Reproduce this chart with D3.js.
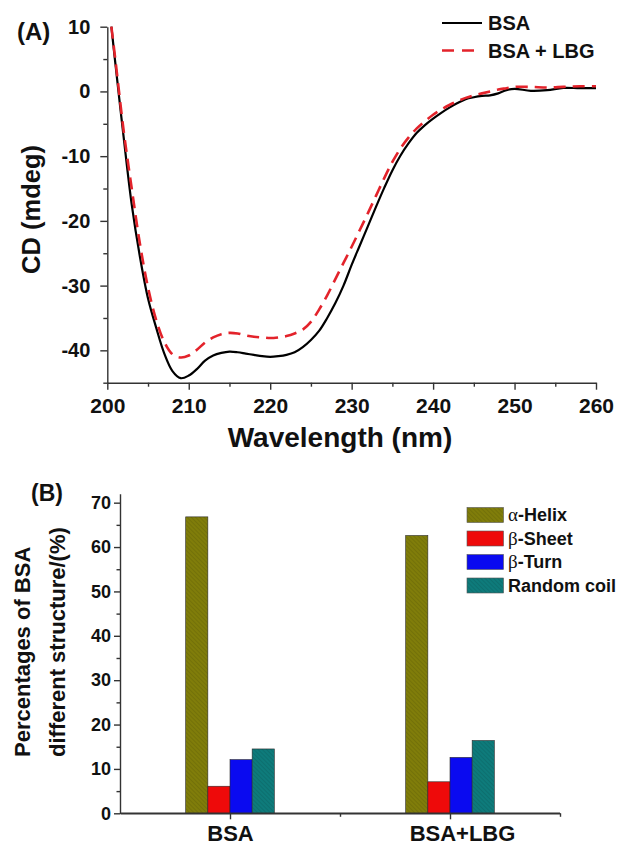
<!DOCTYPE html>
<html>
<head>
<meta charset="utf-8">
<script src="https://cdn.jsdelivr.net/npm/d3@7"></script>
<style>
  body { margin: 0; background: #fff; }
  svg { display: block; font-family: "Liberation Sans", Arial, sans-serif; font-weight: bold; }
</style>
</head>
<body>
<svg id="chart" width="618" height="846"></svg>
<script>
// ---- panel A data: CD spectra ----
const wavelength = [200.5, 201, 202, 203, 204, 205, 206, 207, 208, 209, 210, 211, 212, 213, 214, 215,
  216, 217, 218, 219, 220, 221, 222, 223, 224, 225, 226, 227, 228, 229, 230, 231, 232, 233, 234, 235,
  236, 237, 238, 239, 240, 241, 242, 243, 244, 245, 246, 247, 248, 249, 250, 252, 254, 256, 258, 260];
const cdBSA = [10, 4.2, -7, -17.5, -25.5, -32, -36.5, -40.5, -43.2, -44.3, -43.9, -42.9, -41.6, -40.8, -40.4, -40.2,
  -40.3, -40.5, -40.7, -40.9, -41.0, -40.9, -40.7, -40.3, -39.5, -38.4, -37.0, -35.0, -32.7, -30.0, -26.8, -23.8, -20.8, -17.8, -14.9, -12.2,
  -9.9, -8.0, -6.4, -5.2, -4.2, -3.3, -2.5, -1.8, -1.2, -0.9, -0.7, -0.6, -0.3, 0.2, 0.4, 0.1, 0.2, 0.55, 0.5, 0.5];
const cdBSALBG = [10, 4.8, -6, -15, -23.5, -30.3, -35.3, -38.7, -40.6, -41.1, -40.8, -39.9, -38.8, -38.0, -37.5, -37.3,
  -37.4, -37.7, -37.9, -38.0, -38.1, -38.0, -37.8, -37.4, -36.8, -35.6, -33.7, -31.5, -29.0, -26.5, -24.0, -21.4, -18.8, -16.1, -13.4, -10.9,
  -8.8, -7.1, -5.7, -4.6, -3.6, -2.8, -2.1, -1.5, -1.0, -0.6, -0.3, 0.0, 0.3, 0.5, 0.7, 0.7, 0.6, 0.7, 0.8, 0.8];
const seriesNames = ["BSA", "BSA + LBG"];

// ---- panel B data: secondary structure (%) ----
const samples = ["BSA", "BSA+LBG"];
const structures = ["α-Helix", "β-Sheet", "β-Turn", "Random coil"];
const pctBSA = [66.8, 6.1, 12.1, 14.5];
const pctBSALBG = [62.6, 7.1, 12.6, 16.4];

const svg = d3.select("#chart");
const axisColor = "#333";

// ================= panel A =================
const xA = d3.scaleLinear().domain([200, 260]).range([107.3, 596]);
const yA = d3.scaleLinear().domain([-45, 10]).range([382.7, 26.7]);

const gA = svg.append("g");

// minor ticks first, then major ticks with labels
gA.append("g")
  .attr("transform", `translate(0,${yA(-45)})`)
  .call(d3.axisBottom(xA).tickValues(d3.range(205, 260, 10)).tickSize(4).tickFormat(""))
  .call(g => g.select(".domain").remove());
gA.append("g")
  .attr("transform", `translate(${xA(200)},0)`)
  .call(d3.axisLeft(yA).tickValues([-45, -35, -25, -15, -5, 5]).tickSize(4).tickFormat(""))
  .call(g => g.select(".domain").remove());

const xAxisA = gA.append("g")
  .attr("transform", `translate(0,${yA(-45)})`)
  .call(d3.axisBottom(xA).tickValues(d3.range(200, 261, 10)).tickSize(7).tickSizeOuter(0).tickPadding(8));
xAxisA.selectAll("text").attr("font-size", 21).attr("font-weight", "bold").attr("fill", "#111");

// plain hyphen for negatives, like the original
const yAxisA = gA.append("g")
  .attr("transform", `translate(${xA(200)},0)`)
  .call(d3.axisLeft(yA).tickValues([-40, -30, -20, -10, 0, 10]).tickFormat(d => String(d))
    .tickSize(7).tickSizeOuter(0).tickPadding(10));
yAxisA.selectAll("text").attr("font-size", 20).attr("font-weight", "bold").attr("fill", "#111");

gA.selectAll(".domain, .tick line").attr("stroke", axisColor).attr("stroke-width", 1.4);

const lineA = d3.line()
  .x((d, i) => xA(wavelength[i]))
  .y(d => yA(d))
  .curve(d3.curveCatmullRom);

gA.append("path")
  .datum(cdBSA)
  .attr("fill", "none")
  .attr("stroke", "#000")
  .attr("stroke-width", 2.2)
  .attr("d", lineA);

gA.append("path")
  .datum(cdBSALBG)
  .attr("fill", "none")
  .attr("stroke", "#e3232b")
  .attr("stroke-width", 2.6)
  .attr("stroke-dasharray", "12,7")
  .attr("d", lineA);

// legend
const legA = gA.append("g").attr("transform", "translate(442,23)");
seriesNames.forEach((name, i) => {
  const row = legA.append("g").attr("transform", `translate(0,${i * 27.5})`);
  row.append("line")
    .attr("x1", 0).attr("x2", 40)
    .attr("stroke", i === 0 ? "#000" : "#e3232b")
    .attr("stroke-width", i === 0 ? 2.2 : 2.6)
    .attr("stroke-dasharray", i === 0 ? null : "12,8");
  row.append("text")
    .attr("x", 46).attr("y", 7)
    .attr("font-size", 20).attr("fill", "#111")
    .text(name);
});

gA.append("text").attr("x", 17).attr("y", 40).attr("font-size", 24).attr("fill", "#111").text("(A)");

gA.append("text")
  .attr("transform", `translate(39.5,${(137 + 282) / 2}) rotate(-90)`)
  .attr("text-anchor", "middle")
  .attr("font-size", 25.5).attr("fill", "#111")
  .text("CD (mdeg)");

gA.append("text")
  .attr("x", 340).attr("y", 446.5)
  .attr("text-anchor", "middle")
  .attr("font-size", 28).attr("fill", "#111")
  .text("Wavelength (nm)");

// ================= panel B =================
const colors = ["#807d0a", "#ee0a0a", "#0a0af0", "#0e7b7b"];
const hatched = [true, false, false, true];

const defs = svg.append("defs");
colors.forEach((c, i) => {
  const p = defs.append("pattern")
    .attr("id", "hatch" + i)
    .attr("patternUnits", "userSpaceOnUse")
    .attr("width", 3).attr("height", 3)
    .attr("patternTransform", "rotate(-45)");
  p.append("rect").attr("width", 3).attr("height", 3).attr("fill", c);
  if (hatched[i]) {
    p.append("line").attr("x1", 0).attr("y1", 0).attr("x2", 0).attr("y2", 3)
      .attr("stroke", d3.color(c).darker(0.8)).attr("stroke-width", 0.8);
  }
});

const xB = d3.scaleLinear().domain([0.5, 2.5]).range([120, 560]);
const yB = d3.scaleLinear().domain([0, 72]).range([813.3, 493.8]);
const inner = d3.scaleBand().domain(structures).range([-44.3, 44.3]);

const gB = svg.append("g");

gB.append("g")
  .attr("transform", `translate(${xB(0.5)},0)`)
  .call(d3.axisLeft(yB).tickValues(d3.range(5, 72, 10)).tickSize(3.5).tickFormat(""))
  .call(g => g.select(".domain").remove());
gB.append("g")
  .attr("transform", `translate(0,${yB(0)})`)
  .call(d3.axisBottom(xB).tickValues([1.5, 2.5]).tickSize(3.5).tickFormat(""))
  .call(g => g.select(".domain").remove());

const yAxisB = gB.append("g")
  .attr("transform", `translate(${xB(0.5)},0)`)
  .call(d3.axisLeft(yB).tickValues(d3.range(0, 71, 10)).tickSize(6).tickSizeOuter(0).tickPadding(3));
yAxisB.selectAll("text").attr("font-size", 18).attr("font-weight", "bold").attr("fill", "#111");

const xAxisB = gB.append("g")
  .attr("transform", `translate(0,${yB(0)})`)
  .call(d3.axisBottom(xB).tickValues([1, 2]).tickFormat((d, i) => samples[i]).tickSize(6).tickSizeOuter(0).tickPadding(6.5));
xAxisB.selectAll("text").attr("font-size", 22).attr("font-weight", "bold").attr("fill", "#111")
  .attr("dx", (d, i) => i === 1 ? 12 : 0);

gB.selectAll(".domain, .tick line").attr("stroke", axisColor).attr("stroke-width", 1.4);

const groups = [pctBSA, pctBSALBG];
groups.forEach((vals, gi) => {
  gB.append("g")
    .selectAll("rect")
    .data(vals)
    .join("rect")
    .attr("x", (d, i) => xB(gi + 1) + inner(structures[i]))
    .attr("width", inner.bandwidth())
    .attr("y", d => yB(d))
    .attr("height", d => yB(0) - yB(d))
    .attr("fill", (d, i) => `url(#hatch${i})`)
    .attr("stroke", "#2a2a2a")
    .attr("stroke-width", 0.6);
});

// bars drawn over the axis line; redraw the baseline on top
gB.append("line")
  .attr("x1", xB(0.5)).attr("x2", xB(2.5))
  .attr("y1", yB(0)).attr("y2", yB(0))
  .attr("stroke", axisColor).attr("stroke-width", 1.4);

// legend
const legB = gB.append("g").attr("transform", "translate(467,507.5)");
structures.forEach((name, i) => {
  const row = legB.append("g").attr("transform", `translate(0,${i * 23.5})`);
  row.append("rect")
    .attr("width", 36.5).attr("height", 15)
    .attr("fill", `url(#hatch${i})`)
    .attr("stroke", "#555").attr("stroke-width", 0.6);
  const t = row.append("text").attr("x", 41).attr("y", 13.5).attr("font-size", 18).attr("fill", "#111");
  const greek = name[0] === "α" || name[0] === "β";
  if (greek) {
    t.append("tspan").attr("font-family", "'Liberation Serif', serif").attr("font-weight", "normal")
      .attr("font-size", 19).text(name[0]);
    t.append("tspan").text(name.slice(1));
  } else {
    t.text(name);
  }
});

gB.append("text").attr("x", 31).attr("y", 501).attr("font-size", 23).attr("fill", "#111").text("(B)");

const yTitle = gB.append("text")
  .attr("transform", "translate(0,757) rotate(-90)")
  .attr("font-size", 22).attr("fill", "#111");
yTitle.append("tspan").attr("x", 0).attr("y", 30).text("Percentages of BSA");
yTitle.append("tspan").attr("x", 0).attr("y", 64.5).text("different structure/(%)");
</script>
</body>
</html>
